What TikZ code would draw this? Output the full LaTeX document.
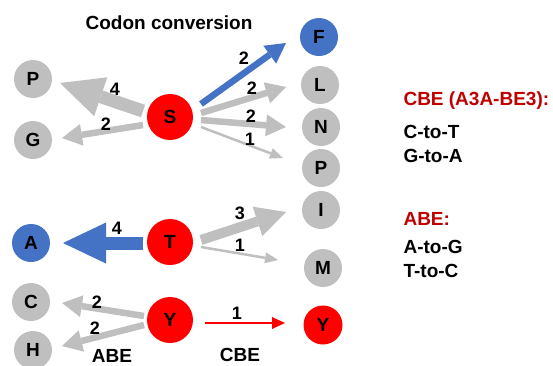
\documentclass[tikz,border=0pt]{standalone}
\usepackage{fontspec}
\setmainfont{Liberation Sans}
\usetikzlibrary{arrows.meta,calc}
\definecolor{cgray}{HTML}{BFBFBF}
\definecolor{cblue}{HTML}{4472C4}
\definecolor{cred}{HTML}{FF0000}
\definecolor{dred}{HTML}{C00000}
\begin{document}
\begin{tikzpicture}[x=1pt,y=-1pt,
 base/.style={circle,inner sep=0pt,font=\fontsize{19}{19}\selectfont\bfseries},
 gnode/.style={base,fill=cgray,minimum size=38pt},
 bnode/.style={base,fill=cblue,minimum size=38pt},
 rnode/.style={base,fill=cred,minimum size=46pt},
 rsmall/.style={base,fill=cred,minimum size=39pt},
 num/.style={font=\fontsize{18}{18}\selectfont\bfseries},
 lab/.style={font=\fontsize{19}{19}\selectfont\bfseries,anchor=base west},
 bottomlab/.style={font=\fontsize{19}{19}\selectfont\bfseries,anchor=base},
 afour/.style={line width=13pt,-{Triangle[width=41pt,length=43pt,line width=0pt]}},
 athree/.style={line width=10pt,-{Triangle[width=31pt,length=30pt,line width=0pt]}},
 atwo/.style={line width=6.5pt,-{Triangle[width=22pt,length=20pt,line width=0pt]}},
 aone/.style={line width=2.5pt,-{Triangle[width=11pt,length=13pt,line width=0pt]}},
]
\useasboundingbox (0,0) rectangle (553,365);
% nodes
\node[gnode] (P) at (33,79) {P};
\node[gnode] (G) at (33,140) {G};
\node[rnode] (S) at (170,117) {S};
\node[bnode] (F) at (319,37) {F};
\node[gnode] (L) at (320,85) {L};
\node[gnode] (N) at (321,127) {N};
\node[gnode] (P2) at (321,168) {P};
\node[gnode] (I) at (321,210) {I};
\node[gnode] (M) at (323,268) {M};
\node[rsmall] (Y2) at (323,325) {Y};
\node[rnode] (T) at (170,242) {T};
\node[rnode] (Y) at (170,320) {Y};
\node[bnode] (A) at (31,243) {A};
\node[gnode] (C) at (31,302) {C};
\node[gnode] (H) at (33,350) {H};
% arrows from S
\draw[afour,cgray] ($(S)+(-27,-6)$) -- ($(P)+(27,4)$);
\draw[atwo,cgray] ($(S)+(-27,8)$) -- ($(G)+(29,-2)$);
\draw[atwo,cblue] ($(S)+(31,-13)$) -- ($(F)+(-33,6)$);
\draw[atwo,cgray] ($(S)+(31,-4)$) -- ($(L)+(-34,2)$);
\draw[atwo,cgray] ($(S)+(31,3)$) -- ($(N)+(-35,0)$);
\draw[aone,cgray] ($(S)+(31,10)$) -- ($(P2)+(-38,-10)$);
% arrows from T
\draw[afour,cblue] ($(T)+(-27,1)$) -- ($(A)+(32,0)$);
\draw[athree,cgray] ($(T)+(31,-2)$) -- ($(I)+(-35,2)$);
\draw[aone,cgray] ($(T)+(31,5)$) -- ($(M)+(-45,-8)$);
% arrows from Y
\draw[atwo,cgray] ($(Y)+(-26,-4)$) -- ($(C)+(31,1)$);
\draw[atwo,cgray] ($(Y)+(-26,5)$) -- ($(H)+(29,-4)$);
\draw[line width=2pt,cred,-{Triangle[width=12pt,length=13pt,line width=0pt]}] ($(Y)+(35,3)$) -- ($(Y2)+(-38,-2)$);
% numbers
\node[num] (n1) at (115,89) {4};
\node[num] (n2) at (106,124) {2};
\node[num] (n3) at (244,58) {2};
\node[num] (n4) at (252,88) {2};
\node[num] (n5) at (251,116) {2};
\node[num] (n6) at (250,139) {1};
\node[num] (n7) at (117,228) {4};
\node[num] (n8) at (240,213) {3};
\node[num] (n9) at (240,245) {1};
\node[num] (n10) at (97,302) {2};
\node[num] (n11) at (95,328) {2};
\node[num] (n12) at (237,313) {1};
% texts
\node[bottomlab] (title) at (169,29) {Codon conversion};
\node[bottomlab] (abe) at (112,362) {ABE};
\node[bottomlab] (cbe) at (240,361) {CBE};
\node[lab,text=dred] (cbeh) at (400,105) {CBE (A3A-BE3):};
\node[lab] (c1) at (400,138) {C-to-T};
\node[lab] (c2) at (400,162) {G-to-A};
\node[lab,text=dred] (abeh) at (400,225) {ABE:};
\node[lab] (a1) at (400,253) {A-to-G};
\node[lab] (a2) at (400,277) {T-to-C};
\end{tikzpicture}
\end{document}
